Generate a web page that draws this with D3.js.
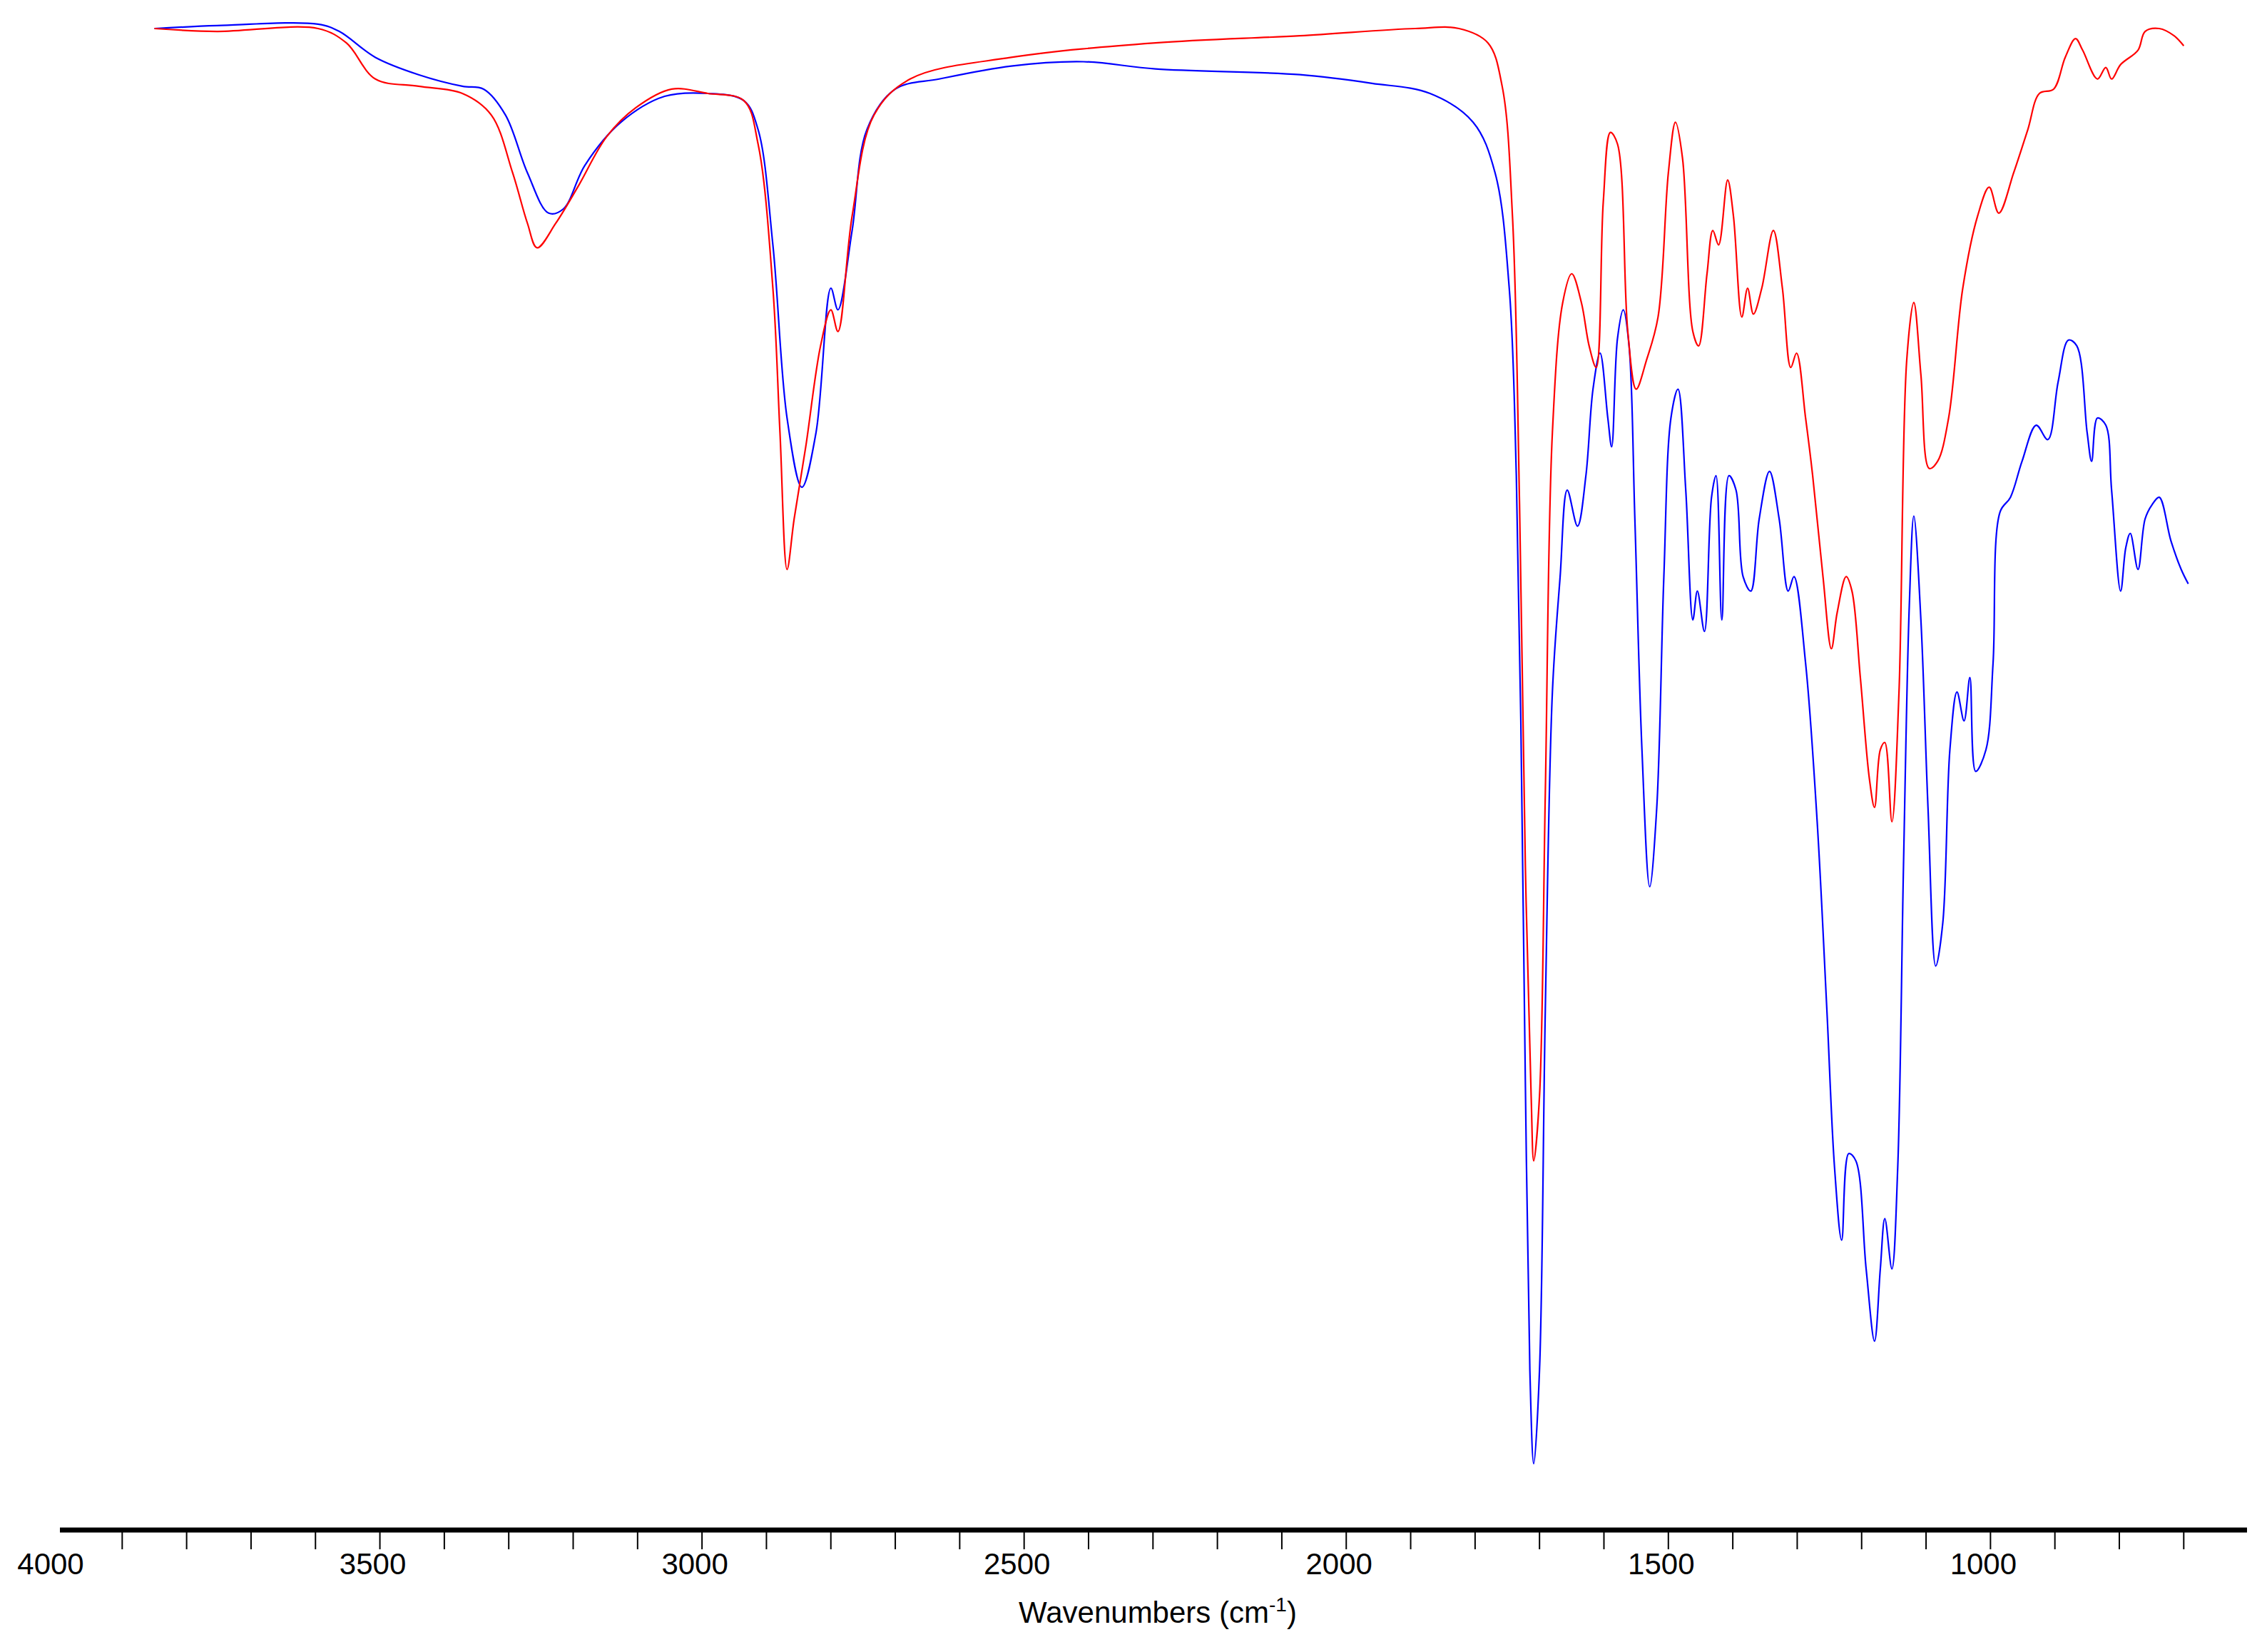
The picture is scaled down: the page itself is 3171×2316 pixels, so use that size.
<!DOCTYPE html>
<html>
<head>
<meta charset="utf-8">
<script src="https://d3js.org/d3.v7.min.js"></script>
<style>
  body { margin: 0; background: #fff; }
  text { font-family: "Liberation Sans", Arial, sans-serif; }
</style>
</head>
<body>
<svg id="chart" width="3171" height="2316"></svg>
<script>
// blue spectrum: wavenumber / transmittance
var blueWn = [3850,3753,3596,3563,3507,3440,3372,3339,3305,3271,3238,3215,3182,3126,3058,2991,2935,2913,2890,2868,2845,2823,2800,2789,2767,2744,2700,2632,2520,2408,2296,2072,1960,1870,1803,1769,1747,1736,1729,1722,1715,1709,1700,1691,1680,1668,1657,1641,1628,1617,1606,1594,1588,1579,1570,1561,1552,1541,1529,1518,1507,1496,1485,1473,1462,1455,1444,1433,1426,1417,1406,1395,1384,1372,1359,1343,1328,1314,1305,1287,1269,1254,1242,1231,1220,1209,1193,1180,1171,1164,1153,1144,1135,1126,1119,1108,1097,1085,1074,1063,1052,1041,1032,1023,1007,996,985,969,951,929,911,895,879,866,850,843,834,821,812,798,790,783,771,760,749,738,720,704,693];
var blueT = [104.0,104.2,104.3,103.8,102.0,100.8,100.0,99.8,98.0,94.0,91.2,91.5,94.5,97.5,99.3,99.5,99.0,97.0,89.0,77.0,72.2,76.0,86.0,84.5,90.0,97.0,99.8,100.5,101.4,101.7,101.2,100.8,100.2,99.5,97.5,94.0,86.0,73.0,56.0,31.0,11.0,4.5,11.0,36.0,58.0,66.0,72.0,69.5,73.0,79.0,81.5,77.0,75.0,82.5,84.5,82.0,70.0,54.0,44.5,50.0,66.0,77.0,79.0,72.0,63.0,65.0,62.2,71.5,73.0,63.0,73.0,72.0,66.0,65.0,70.0,73.3,70.0,65.0,66.0,60.0,49.0,36.0,25.0,20.0,26.0,25.5,18.0,13.0,18.0,21.5,18.0,25.0,46.0,64.0,70.2,63.0,50.0,39.0,42.0,54.0,58.0,56.0,59.0,52.5,54.0,60.0,70.5,71.5,74.0,76.5,75.5,79.5,82.4,82.0,76.0,74.0,77.0,76.5,72.0,65.0,68.0,69.0,66.5,70.0,71.0,71.5,68.5,66.5,65.5];

// red spectrum
var redWn = [3850,3753,3596,3552,3507,3440,3372,3327,3294,3271,3256,3227,3193,3148,3103,3047,2991,2935,2913,2890,2879,2868,2857,2839,2816,2800,2789,2767,2733,2677,2520,2296,2072,1893,1825,1780,1758,1742,1731,1722,1713,1709,1700,1691,1680,1664,1650,1635,1623,1612,1601,1590,1579,1563,1550,1534,1516,1500,1489,1478,1462,1453,1440,1431,1422,1408,1399,1386,1377,1368,1355,1337,1323,1310,1301,1287,1276,1260,1247,1238,1224,1215,1202,1188,1180,1171,1164,1153,1142,1130,1119,1108,1095,1082,1065,1043,1020,1002,987,964,942,924,902,884,868,857,834,821,812,798,771,760,738,715,700];
var redT = [104.0,103.8,104.0,103.0,100.5,100.0,99.5,98.0,94.0,90.5,88.8,90.5,93.0,96.5,98.5,99.8,99.5,99.0,96.0,86.0,76.0,66.5,70.0,75.0,82.0,84.5,83.0,91.0,98.0,100.5,102.0,103.0,103.5,104.0,104.0,103.0,100.0,91.0,71.0,46.0,30.0,25.5,30.0,51.0,76.0,85.0,87.0,85.0,82.0,80.5,92.0,96.8,96.0,83.0,79.0,81.0,84.0,94.0,97.5,95.0,83.0,82.0,87.0,90.0,89.0,93.5,91.0,84.0,86.0,84.2,86.0,90.0,86.0,80.5,81.5,77.0,73.0,66.0,61.0,63.5,66.0,65.0,59.0,52.0,50.0,54.0,54.5,49.0,58.0,81.0,85.0,80.0,73.5,74.0,77.0,86.0,91.0,93.0,91.2,94.0,97.0,99.5,99.8,102.0,103.3,102.5,100.5,101.3,100.5,101.5,102.5,103.8,104.0,103.5,102.8];

var majorTicks = [4000, 3500, 3000, 2500, 2000, 1500, 1000];
var minorTicks = d3.range(3900, 600, -100);

var svg = d3.select("#chart");

var x = d3.scaleLinear().domain([4000, 604]).range([81, 3148]);
var y = d3.scaleLinear().domain([0, 104]).range([2143, 40]);

var line = d3.line()
  .curve(d3.curveCatmullRom.alpha(0.5))
  .x(d => x(d[0]))
  .y(d => y(d[1]));

svg.append("path")
  .datum(d3.zip(blueWn, blueT))
  .attr("d", line)
  .attr("fill", "none")
  .attr("stroke", "#0000ff")
  .attr("stroke-width", 2.2);

svg.append("path")
  .datum(d3.zip(redWn, redT))
  .attr("d", line)
  .attr("fill", "none")
  .attr("stroke", "#ff0000")
  .attr("stroke-width", 2.2);

// x axis
var axisY = 2145;
svg.append("line")
  .attr("x1", 84).attr("x2", 3150)
  .attr("y1", axisY).attr("y2", axisY)
  .attr("stroke", "#000").attr("stroke-width", 7);

svg.selectAll(".minor")
  .data(minorTicks)
  .enter().append("line")
  .attr("x1", d => x(d)).attr("x2", d => x(d))
  .attr("y1", axisY).attr("y2", axisY + 27)
  .attr("stroke", "#000").attr("stroke-width", 2);

svg.selectAll(".lbl")
  .data(majorTicks)
  .enter().append("text")
  .attr("x", d => x(d) - 10)
  .attr("y", 2207)
  .attr("text-anchor", "middle")
  .attr("font-size", 42)
  .text(d => d);

var title = svg.append("text")
  .attr("x", 1623)
  .attr("y", 2275)
  .attr("text-anchor", "middle")
  .attr("font-size", 42);
title.append("tspan").text("Wavenumbers (cm");
title.append("tspan").attr("dy", -16).attr("font-size", 28).text("-1");
title.append("tspan").attr("dy", 16).text(")");
</script>
</body>
</html>
